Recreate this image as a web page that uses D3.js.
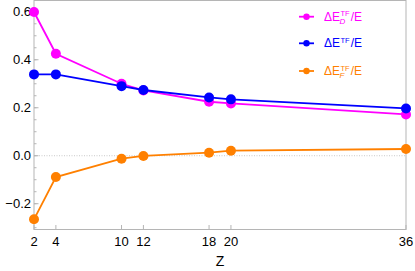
<!DOCTYPE html>
<html>
<head>
<meta charset="utf-8">
<script src="https://cdn.jsdelivr.net/npm/d3@7"></script>
<style>
  body { margin: 0; background: #fff; }
  text { font-family: "Liberation Sans", Arial, sans-serif; }
</style>
</head>
<body>
<div id="chart"></div>
<script>
const zValues = [2, 4, 10, 12, 18, 20, 36];
const deltaD = [0.599, 0.425, 0.300, 0.272, 0.225, 0.218, 0.172];
const deltaTotal = [0.339, 0.339, 0.290, 0.274, 0.243, 0.235, 0.197];
const deltaF = [-0.265, -0.089, -0.0125, -0.001, 0.0125, 0.021, 0.028];
const yTicks = [-0.2, 0.0, 0.2, 0.4, 0.6];
const yMinorTicks = d3.range(-0.3, 0.65, 0.05);

const series = [
    { key: "D", values: deltaD, color: "#ff00ff", sub: "D" },
    { key: "T", values: deltaTotal, color: "#0000ff", sub: null },
    { key: "F", values: deltaF, color: "#ff8000", sub: "F" },
];

const width = 415, height = 271;
const svg = d3.select("#chart").append("svg")
    .attr("width", width)
    .attr("height", height);

const xScale = d3.scaleLinear().domain([2, 36]).range([34, 406]);
const yScale = d3.scaleLinear().domain([-0.3075, 0.647]).range([229.5, 0.5]);

// frame
svg.append("rect")
    .attr("x", 34).attr("y", 0.5)
    .attr("width", 372).attr("height", 229)
    .attr("fill", "none")
    .attr("stroke", "#b5b5b5")
    .attr("stroke-width", 1);

// zero line
svg.append("line")
    .attr("x1", 34).attr("x2", 406)
    .attr("y1", yScale(0)).attr("y2", yScale(0))
    .attr("stroke", "#bbb")
    .attr("stroke-width", 0.8)
    .attr("stroke-dasharray", "1,1.5");

// y axis ticks
svg.append("g")
    .selectAll("line.minor")
    .data(yMinorTicks)
    .enter().append("line")
    .attr("x1", 34).attr("x2", 36.5)
    .attr("y1", d => yScale(d)).attr("y2", d => yScale(d))
    .attr("stroke", "#b5b5b5");

svg.append("g")
    .selectAll("line.major")
    .data(yTicks)
    .enter().append("line")
    .attr("x1", 34).attr("x2", 38.5)
    .attr("y1", d => yScale(d)).attr("y2", d => yScale(d))
    .attr("stroke", "#b5b5b5");

svg.append("g")
    .selectAll("text")
    .data(yTicks)
    .enter().append("text")
    .attr("x", 31)
    .attr("y", d => yScale(d))
    .attr("dy", "0.36em")
    .attr("text-anchor", "end")
    .style("font-size", "13px")
    .text(d => d3.format(".1f")(d).replace("-", "\u2212"));

// x axis ticks
svg.append("g")
    .selectAll("line")
    .data(zValues)
    .enter().append("line")
    .attr("x1", d => xScale(d)).attr("x2", d => xScale(d))
    .attr("y1", 229.5).attr("y2", 225)
    .attr("stroke", "#b5b5b5");

svg.append("g")
    .selectAll("text")
    .data(zValues)
    .enter().append("text")
    .attr("x", d => xScale(d))
    .attr("y", 246)
    .attr("text-anchor", "middle")
    .style("font-size", "13px")
    .text(d => d);

svg.append("text")
    .attr("x", 220)
    .attr("y", 266)
    .attr("text-anchor", "middle")
    .style("font-size", "14px")
    .text("Z");

// series
const line = d3.line()
    .x((d, i) => xScale(zValues[i]))
    .y(d => yScale(d));

series.forEach(s => {
    svg.append("path")
        .datum(s.values)
        .attr("d", line)
        .attr("fill", "none")
        .attr("stroke", s.color)
        .attr("stroke-width", 1.8);
    svg.append("g")
        .selectAll("circle")
        .data(s.values)
        .enter().append("circle")
        .attr("cx", (d, i) => xScale(zValues[i]))
        .attr("cy", d => yScale(d))
        .attr("r", 5)
        .attr("fill", s.color);
});

// legend
const legend = svg.append("g");
const legendY = [16.7, 43.3, 71];
series.forEach((s, i) => {
    const y = legendY[i];
    legend.append("line")
        .attr("x1", 299).attr("x2", 314)
        .attr("y1", y).attr("y2", y)
        .attr("stroke", s.color)
        .attr("stroke-width", 1.8);
    legend.append("circle")
        .attr("cx", 306.5).attr("cy", y)
        .attr("r", 3.2)
        .attr("fill", s.color);

    const base = legend.append("text")
        .attr("x", 324).attr("y", y + 4)
        .attr("fill", s.color)
        .style("font-size", "12px")
        .text("\u0394E");
    const w = base.node().getComputedTextLength();
    const sup = legend.append("text")
        .attr("x", 324 + w + 0.5).attr("y", y - 0.5)
        .attr("fill", s.color)
        .style("font-size", "7.5px")
        .text("TF");
    const supW = sup.node().getComputedTextLength();
    if (s.sub) {
        legend.append("text")
            .attr("x", 324 + w - 0.5).attr("y", y + 7)
            .attr("fill", s.color)
            .style("font-size", "8px")
            .style("font-style", "italic")
            .text(s.sub);
    }
    legend.append("text")
        .attr("x", 324 + w + supW + 1.5).attr("y", y + 4)
        .attr("fill", s.color)
        .style("font-size", "12px")
        .text("/E");
});
</script>
</body>
</html>
